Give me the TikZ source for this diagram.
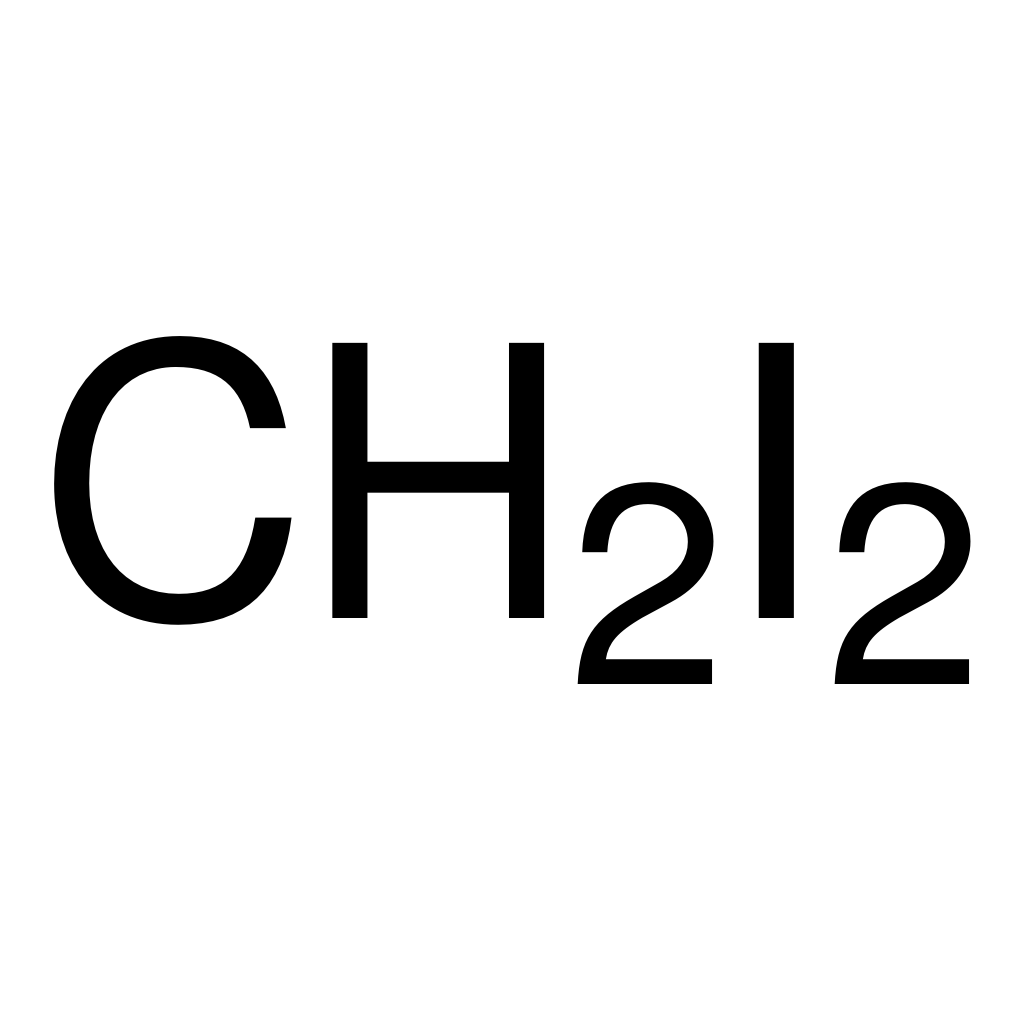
\documentclass[tikz,border=0pt]{standalone}
\usepackage{fontspec}
\setmainfont{TeX Gyre Heros}
\usetikzlibrary{positioning}

\begin{document}
\begin{tikzpicture}[
    every node/.style={inner sep=0pt, outer sep=0pt, anchor=base west},
    big/.style={font=\fontsize{107.4}{110}\selectfont},
    sub/.style={font=\fontsize{81}{82}\selectfont}
]
\useasboundingbox (0,0) rectangle (10.24,10.24);

% formula CH2I2
\node[big] (c) at (0.36,4.05) {C};
\node[big] (h) at (3.01,4.05) {H};
\node[sub] (s1) at (5.68,3.39) {2};
\node[big] (i) at (7.21,4.05) {I};
\node[sub] (s2) at (8.25,3.39) {2};

\end{tikzpicture}
\end{document}
